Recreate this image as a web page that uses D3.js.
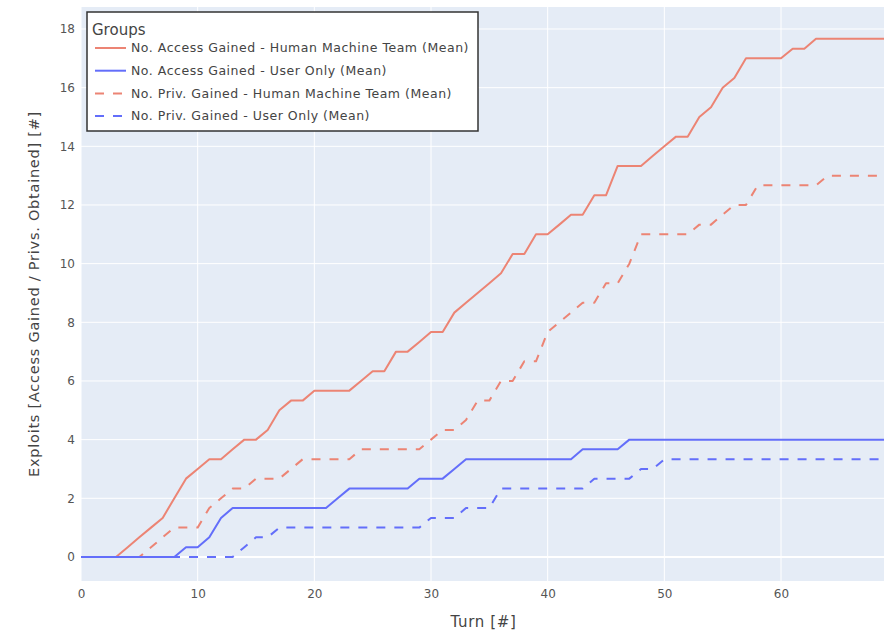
<!DOCTYPE html>
<html>
<head>
<meta charset="utf-8">
<script src="https://cdn.jsdelivr.net/npm/d3@7"></script>
<style>
  html, body { margin: 0; padding: 0; background: #fff; }
  svg { display: block; }
  text { font-family: "DejaVu Sans", Verdana, sans-serif; }
</style>
</head>
<body>
<svg id="chart" width="884" height="633"></svg>
<script>
// Turn index 0..69
const turns = d3.range(0, 70);

// Mean number of hosts where access was gained, Human Machine Team
const accessHMT = [
  0, 0, 0, 0, 0.33, 0.67, 1.0, 1.33, 2.0, 2.67,
  3.0, 3.33, 3.33, 3.67, 4.0, 4.0, 4.33, 5.0, 5.33, 5.33,
  5.67, 5.67, 5.67, 5.67, 6.0, 6.33, 6.33, 7.0, 7.0, 7.33,
  7.67, 7.67, 8.33, 8.67, 9.0, 9.33, 9.67, 10.33, 10.33, 11.0,
  11.0, 11.33, 11.67, 11.67, 12.33, 12.33, 13.33, 13.33, 13.33, 13.67,
  14.0, 14.33, 14.33, 15.0, 15.33, 16.0, 16.33, 17.0, 17.0, 17.0,
  17.0, 17.33, 17.33, 17.67, 17.67, 17.67, 17.67, 17.67, 17.67, 17.67
];

// Mean number of hosts where access was gained, User Only
const accessUser = [
  0, 0, 0, 0, 0, 0, 0, 0, 0, 0.33,
  0.33, 0.67, 1.33, 1.67, 1.67, 1.67, 1.67, 1.67, 1.67, 1.67,
  1.67, 1.67, 2.0, 2.33, 2.33, 2.33, 2.33, 2.33, 2.33, 2.67,
  2.67, 2.67, 3.0, 3.33, 3.33, 3.33, 3.33, 3.33, 3.33, 3.33,
  3.33, 3.33, 3.33, 3.67, 3.67, 3.67, 3.67, 4.0, 4.0, 4.0,
  4.0, 4.0, 4.0, 4.0, 4.0, 4.0, 4.0, 4.0, 4.0, 4.0,
  4.0, 4.0, 4.0, 4.0, 4.0, 4.0, 4.0, 4.0, 4.0, 4.0
];

// Mean number of privileges gained, Human Machine Team
const privHMT = [
  0, 0, 0, 0, 0, 0, 0.33, 0.67, 1.0, 1.0,
  1.0, 1.67, 2.0, 2.33, 2.33, 2.67, 2.67, 2.67, 3.0, 3.33,
  3.33, 3.33, 3.33, 3.33, 3.67, 3.67, 3.67, 3.67, 3.67, 3.67,
  4.0, 4.33, 4.33, 4.67, 5.33, 5.33, 6.0, 6.0, 6.67, 6.67,
  7.67, 8.0, 8.33, 8.67, 8.67, 9.33, 9.33, 10.0, 11.0, 11.0,
  11.0, 11.0, 11.0, 11.33, 11.33, 11.67, 12.0, 12.0, 12.67, 12.67,
  12.67, 12.67, 12.67, 12.67, 13.0, 13.0, 13.0, 13.0, 13.0, 13.0
];

// Mean number of privileges gained, User Only
const privUser = [
  0, 0, 0, 0, 0, 0, 0, 0, 0, 0,
  0, 0, 0, 0, 0.33, 0.67, 0.67, 1.0, 1.0, 1.0,
  1.0, 1.0, 1.0, 1.0, 1.0, 1.0, 1.0, 1.0, 1.0, 1.0,
  1.33, 1.33, 1.33, 1.67, 1.67, 1.67, 2.33, 2.33, 2.33, 2.33,
  2.33, 2.33, 2.33, 2.33, 2.67, 2.67, 2.67, 2.67, 3.0, 3.0,
  3.33, 3.33, 3.33, 3.33, 3.33, 3.33, 3.33, 3.33, 3.33, 3.33,
  3.33, 3.33, 3.33, 3.33, 3.33, 3.33, 3.33, 3.33, 3.33, 3.33
];

const seriesNames = [
  "No. Access Gained - Human Machine Team (Mean)",
  "No. Access Gained - User Only (Mean)",
  "No. Priv. Gained - Human Machine Team (Mean)",
  "No. Priv. Gained - User Only (Mean)"
];

const xTicks = [0, 10, 20, 30, 40, 50, 60];
const yTicks = [0, 2, 4, 6, 8, 10, 12, 14, 16, 18];

const xTitle = "Turn [#]";
const yTitle = "Exploits [Access Gained / Privs. Obtained] [#]";
const legendTitle = "Groups";

// ---- styling ----
const RED = "#EC8474";
const BLUE = "#636EFA";
const series = [
  { name: seriesNames[0], values: accessHMT, color: RED, dash: null },
  { name: seriesNames[1], values: accessUser, color: BLUE, dash: null },
  { name: seriesNames[2], values: privHMT, color: RED, dash: "9,9" },
  { name: seriesNames[3], values: privUser, color: BLUE, dash: "9,9" }
];

// widen a text element to a given length by spreading its letters
function spreadTo(sel, target) {
  sel.each(function () {
    const n = this.textContent.length;
    const len = this.getComputedTextLength();
    if (n > 1 && len < target) {
      d3.select(this).attr("letter-spacing", ((target - len) / n).toFixed(3));
    }
  });
}

const svg = d3.select("#chart");
const plot = { left: 81, right: 886, top: 7, bottom: 581 };

const x = d3.scaleLinear().domain([0, 69]).range([plot.left, plot.right]);
const y = d3.scaleLinear().domain([-0.82, 18.75]).range([plot.bottom, plot.top]);

// plot background
svg.append("rect")
  .attr("x", plot.left).attr("y", plot.top)
  .attr("width", plot.right - plot.left).attr("height", plot.bottom - plot.top)
  .attr("fill", "#E5ECF6");

// grid lines
const grid = svg.append("g");
grid.selectAll("line.gx").data(xTicks).join("line")
  .attr("x1", d => x(d)).attr("x2", d => x(d))
  .attr("y1", plot.top).attr("y2", plot.bottom)
  .attr("stroke", "#fff").attr("stroke-width", 1);
grid.selectAll("line.gy").data(yTicks).join("line")
  .attr("x1", plot.left).attr("x2", plot.right)
  .attr("y1", d => y(d)).attr("y2", d => y(d))
  .attr("stroke", "#fff").attr("stroke-width", d => d === 0 ? 2 : 1);

// axes (labels only)
const xAxis = d3.axisBottom(x).tickValues(xTicks).tickSize(0).tickPadding(0);
const gx = svg.append("g").attr("transform", `translate(0,${plot.bottom + 8})`).call(xAxis);
gx.select(".domain").remove();
gx.selectAll("text").attr("fill", "#555").attr("font-size", 12)
  .attr("font-family", "DejaVu Sans, sans-serif").attr("dy", "0.71em");

const yAxis = d3.axisLeft(y).tickValues(yTicks).tickSize(0).tickPadding(0);
const gy = svg.append("g").attr("transform", `translate(${plot.left - 6},0)`).call(yAxis);
gy.select(".domain").remove();
gy.selectAll("text").attr("fill", "#555").attr("font-size", 12)
  .attr("font-family", "DejaVu Sans, sans-serif");

// axis titles
svg.append("text")
  .attr("x", (plot.left + plot.right) / 2).attr("y", 627)
  .attr("text-anchor", "middle").attr("font-size", 15).attr("fill", "#444")
  .text(xTitle)
  .call(spreadTo, 66);
svg.append("text")
  .attr("transform", `translate(39,${(plot.top + plot.bottom) / 2}) rotate(-90)`)
  .attr("text-anchor", "middle").attr("font-size", 14.5).attr("fill", "#444")
  .text(yTitle)
  .call(spreadTo, 366);

// lines
svg.append("clipPath").attr("id", "clip").append("rect")
  .attr("x", plot.left).attr("y", plot.top)
  .attr("width", plot.right - plot.left).attr("height", plot.bottom - plot.top);

const line = d3.line().x((d, i) => x(turns[i])).y(d => y(d));
const lines = svg.append("g").attr("clip-path", "url(#clip)");
lines.selectAll("path").data(series).join("path")
  .attr("d", d => line(d.values))
  .attr("fill", "none")
  .attr("stroke", d => d.color)
  .attr("stroke-width", 2)
  .attr("stroke-linejoin", "round")
  .attr("stroke-dasharray", d => d.dash);

// legend
const lg = svg.append("g").attr("transform", "translate(87,12)");
lg.append("rect")
  .attr("x", 0).attr("y", 0).attr("width", 391).attr("height", 119)
  .attr("fill", "#fff").attr("stroke", "#333").attr("stroke-width", 1.5);
lg.append("text").attr("x", 5).attr("y", 23)
  .attr("font-size", 15).attr("fill", "#444").text(legendTitle);
const items = lg.selectAll("g.item").data(series).join("g")
  .attr("transform", (d, i) => `translate(0,${36 + i * 22.7})`);
items.append("line")
  .attr("x1", 8).attr("x2", 39).attr("y1", 0).attr("y2", 0)
  .attr("stroke", d => d.color).attr("stroke-width", 2)
  .attr("stroke-dasharray", d => d.dash);
const itemText = items.append("text")
  .attr("x", 44).attr("y", 0).attr("dy", "0.35em")
  .attr("font-size", 12.5).attr("fill", "#444")
  .text(d => d.name);
// letter spacing chosen from the longest entry so all rows share it
const longest = itemText.filter((d, i) => i === 0);
const baseLen = longest.node().getComputedTextLength();
const ls = (338 - baseLen) / seriesNames[0].length;
itemText.attr("letter-spacing", ls > 0 ? ls.toFixed(3) : 0);
</script>
</body>
</html>
